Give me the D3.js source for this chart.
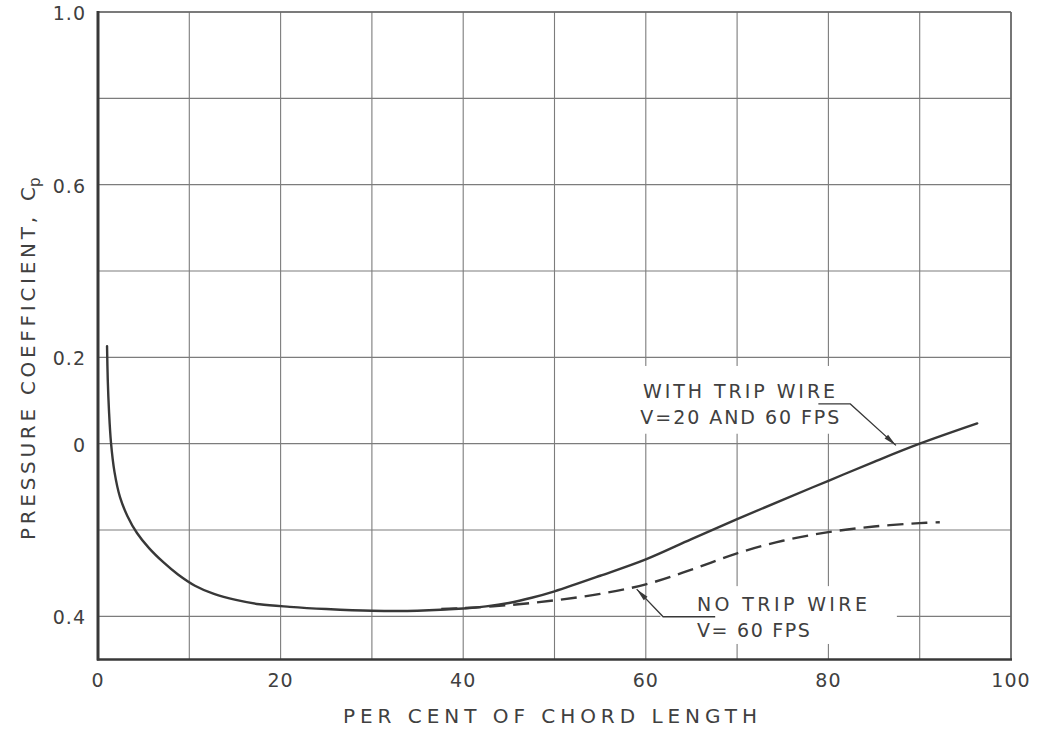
<!DOCTYPE html>
<html>
<head>
<meta charset="utf-8">
<script src="https://cdn.jsdelivr.net/npm/d3@7"></script>
<style>
  html, body { margin: 0; padding: 0; background: #ffffff; }
  svg { display: block; }
  text { font-family: "DejaVu Sans", "Liberation Sans", sans-serif; fill: #404040; }
</style>
</head>
<body>
<svg id="chart" width="1038" height="731"></svg>
<script>
// Chordwise pressure distribution, per cent of chord vs Cp
const chordWithTrip = [0.99, 1.07, 1.2, 1.42, 1.81, 2.41, 3.23, 4.27, 5.59, 7.12, 8.76, 10.62, 12.7, 15.1, 17.7, 21.0, 25.0, 30.0, 35, 40, 42.5, 45, 47.5, 50, 55, 60, 65, 70, 75, 80, 85, 90, 96.3];
const cpWithTrip    = [0.226, 0.147, 0.078, 0.003, -0.066, -0.124, -0.168, -0.207, -0.242, -0.274, -0.303, -0.329, -0.348, -0.362, -0.372, -0.378, -0.383, -0.387, -0.387, -0.382, -0.377, -0.369, -0.357, -0.342, -0.306, -0.268, -0.221, -0.175, -0.130, -0.086, -0.042, 0.0, 0.047];

const chordNoTrip = [37.6, 40, 45, 50, 55, 60, 65, 70, 75, 80, 85, 90, 92.2];
const cpNoTrip    = [-0.383, -0.381, -0.374, -0.363, -0.348, -0.326, -0.292, -0.254, -0.225, -0.205, -0.192, -0.184, -0.182];

const xTickValues = [0, 20, 40, 60, 80, 100];
const xTickLabels = ["0", "20", "40", "60", "80", "100"];
const yTickValues = [1.0, 0.6, 0.2, 0, -0.4];
const yTickLabels = ["1.0", "0.6", "0.2", "0", "0.4"];
const xGridValues = d3.range(0, 101, 10);
const yGridValues = [1.0, 0.8, 0.6, 0.4, 0.2, 0, -0.2, -0.4];

const xTitle = "PER CENT OF CHORD LENGTH";
const yTitle = "PRESSURE COEFFICIENT,";
const withTripLines = ["WITH TRIP WIRE", "V=20 AND 60 FPS"];
const noTripLines = ["NO TRIP WIRE", "V= 60 FPS"];

const ink = "#383838";
const gridInk = "#7c7c7c";

const svg = d3.select("#chart");
const plotLeft = 98, plotRight = 1011, plotTop = 12, plotBottom = 659.5;

const x = d3.scaleLinear().domain([0, 100]).range([plotLeft, plotRight]);
const y = d3.scaleLinear().domain([-0.5, 1.0]).range([plotBottom, plotTop]);

// grid
const grid = svg.append("g");
grid.selectAll("line.v").data(xGridValues).join("line").attr("class", "v")
  .attr("x1", d => x(d)).attr("x2", d => x(d))
  .attr("y1", plotTop).attr("y2", plotBottom)
  .attr("stroke", gridInk).attr("stroke-width", 1.1);
grid.selectAll("line.h").data(yGridValues).join("line").attr("class", "h")
  .attr("x1", plotLeft).attr("x2", plotRight)
  .attr("y1", d => y(d)).attr("y2", d => y(d))
  .attr("stroke", gridInk).attr("stroke-width", 1.1);

// clear areas behind the annotation lettering
const masks = [
  { x0: 59.3, x1: 82.7, y0: 0.180, y1: 0.023 },
  { x0: 61.6, x1: 87.5, y0: -0.330, y1: -0.464 }
];
svg.append("g").selectAll("rect").data(masks).join("rect")
  .attr("x", d => x(d.x0)).attr("width", d => x(d.x1) - x(d.x0))
  .attr("y", d => y(d.y0)).attr("height", d => y(d.y1) - y(d.y0))
  .attr("fill", "#ffffff");

// frame: heavy left and bottom axes, lighter top and right edges
svg.append("line").attr("x1", plotLeft).attr("x2", plotRight).attr("y1", plotTop).attr("y2", plotTop)
  .attr("stroke", "#666666").attr("stroke-width", 1.6);
svg.append("line").attr("x1", plotRight).attr("x2", plotRight).attr("y1", plotTop).attr("y2", plotBottom)
  .attr("stroke", "#666666").attr("stroke-width", 1.6);
svg.append("line").attr("x1", plotLeft).attr("x2", plotLeft).attr("y1", plotTop - 1).attr("y2", plotBottom + 1)
  .attr("stroke", ink).attr("stroke-width", 3);
svg.append("line").attr("x1", plotLeft - 1).attr("x2", plotRight + 1).attr("y1", plotBottom).attr("y2", plotBottom)
  .attr("stroke", ink).attr("stroke-width", 2.6);

// tick labels
svg.append("g").selectAll("text").data(xTickValues).join("text")
  .attr("x", d => x(d)).attr("y", plotBottom + 27)
  .attr("text-anchor", "middle")
  .attr("font-size", 19).attr("letter-spacing", 1)
  .text((d, i) => xTickLabels[i]);
svg.append("g").selectAll("text").data(yTickValues).join("text")
  .attr("x", plotLeft - 12).attr("y", d => y(d) + 8)
  .attr("text-anchor", "end")
  .attr("font-size", 19).attr("letter-spacing", 1)
  .text((d, i) => yTickLabels[i]);

// axis titles
svg.append("text")
  .attr("x", 343).attr("y", 723)
  .attr("font-size", 20)
  .attr("textLength", 414).attr("lengthAdjust", "spacing")
  .text(xTitle);

svg.append("text")
  .attr("transform", "translate(35,540) rotate(-90)")
  .attr("font-size", 20)
  .attr("textLength", 323).attr("lengthAdjust", "spacing")
  .text(yTitle);
svg.append("text")
  .attr("transform", "translate(35,201) rotate(-90)")
  .attr("font-size", 20)
  .text("C");
svg.append("text")
  .attr("transform", "translate(40,187) rotate(-90)")
  .attr("font-size", 15)
  .text("p");

// curves
const line = d3.line()
  .x(d => x(d[0])).y(d => y(d[1]))
  .curve(d3.curveCatmullRom.alpha(0.5));

svg.append("path")
  .datum(d3.zip(chordWithTrip, cpWithTrip))
  .attr("d", line)
  .attr("fill", "none").attr("stroke", ink)
  .attr("stroke-width", 2.4).attr("stroke-linecap", "round");

svg.append("path")
  .datum(d3.zip(chordNoTrip, cpNoTrip))
  .attr("d", line)
  .attr("fill", "none").attr("stroke", ink)
  .attr("stroke-width", 2.4)
  .attr("stroke-dasharray", "16,8");

// annotations with leader arrows
function leader(points) {
  const pts = points.map(p => [x(p[0]), y(p[1])]);
  svg.append("path")
    .attr("d", d3.line()(pts))
    .attr("fill", "none").attr("stroke", ink).attr("stroke-width", 1.3);
  const [tx, ty] = pts[pts.length - 1];
  const [px, py] = pts[pts.length - 2];
  const a = Math.atan2(ty - py, tx - px);
  const len = 13, half = 2.6;
  const bx = tx - len * Math.cos(a), by = ty - len * Math.sin(a);
  const nx = -Math.sin(a) * half, ny = Math.cos(a) * half;
  svg.append("path")
    .attr("d", `M${tx},${ty}L${bx + nx},${by + ny}L${bx - nx},${by - ny}Z`)
    .attr("fill", ink);
}

leader([[78.9, 0.092], [82.4, 0.092], [87.4, -0.004]]);
leader([[67.6, -0.401], [61.9, -0.401], [59.0, -0.337]]);

function label(lines, x0, ys, widths) {
  lines.forEach((t, i) => {
    svg.append("text")
      .attr("x", x(x0[i])).attr("y", y(ys[i]))
      .attr("font-size", 19)
      .attr("textLength", widths[i]).attr("lengthAdjust", "spacing")
      .text(t);
  });
}
label(withTripLines, [59.7, 59.4], [0.106, 0.046], [192, 199]);
label(noTripLines, [65.6, 65.6], [-0.388, -0.448], [170, 113]);
</script>
</body>
</html>
